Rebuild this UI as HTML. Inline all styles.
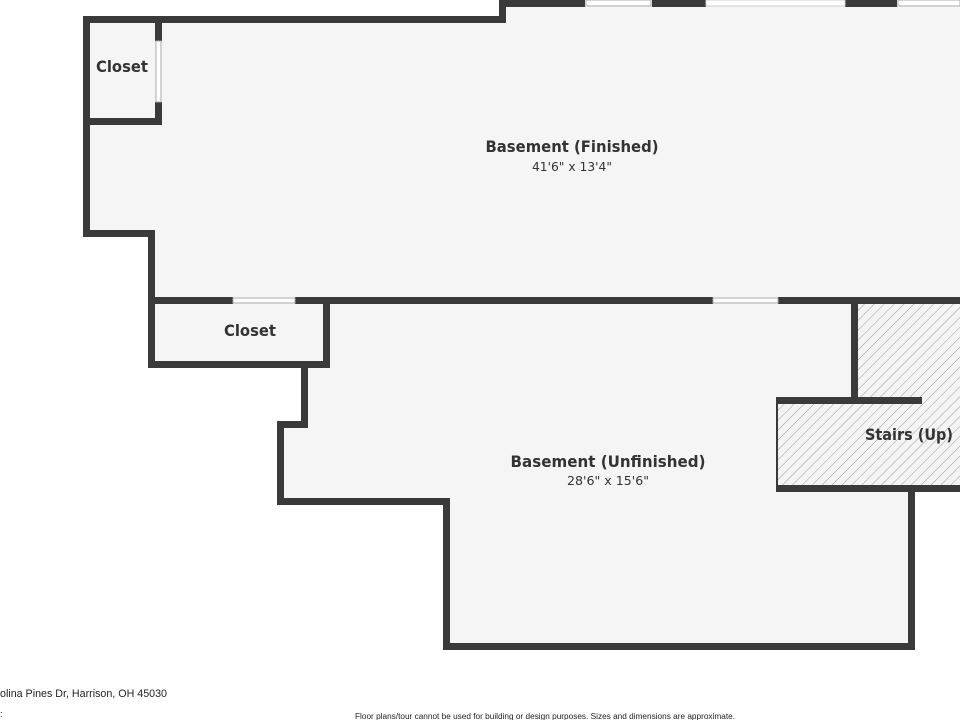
<!DOCTYPE html>
<html><head><meta charset="utf-8"><style>
body{margin:0;width:960px;height:720px;overflow:hidden;background:#fff;font-family:"Liberation Sans","DejaVu Sans",sans-serif}
</style></head><body>
<svg width="960" height="720" viewBox="0 0 960 720" xmlns="http://www.w3.org/2000/svg">
<defs>
<pattern id="h" patternUnits="userSpaceOnUse" width="7" height="7" patternTransform="rotate(45)">
<rect width="7" height="7" fill="#f4f4f4"/><line x1="0" y1="0" x2="0" y2="7" stroke="#999" stroke-width="1"/>
</pattern>
</defs>
<polygon points="86,20 503,20 503,3 960,3 960,300 151,300 151,233 86,233" fill="#f5f5f5"/>
<polygon points="151,300 960,300 960,489 912,489 912,647 446,647 446,502 280,502 280,424 304,424 304,364 151,364" fill="#f5f5f5"/>
<rect x="855" y="304" width="105" height="96" fill="url(#h)"/>
<rect x="777" y="400" width="183" height="88" fill="url(#h)"/>
<g fill="#3a3a3a">
<rect x="83" y="16" width="423" height="7"/>
<rect x="499" y="0" width="7" height="23"/>
<rect x="499" y="0" width="86" height="7"/>
<rect x="652" y="0" width="54" height="7"/>
<rect x="845" y="0" width="52" height="7"/>
<rect x="83" y="16" width="7" height="221"/>
<rect x="155" y="16" width="7" height="25"/>
<rect x="155" y="102" width="7" height="23"/>
<rect x="83" y="118" width="79" height="7"/>
<rect x="83" y="230" width="72" height="7"/>
<rect x="148" y="230" width="7" height="138"/>
<rect x="148" y="297" width="85" height="7"/>
<rect x="295" y="297" width="418" height="7"/>
<rect x="778" y="297" width="182" height="7"/>
<rect x="148" y="361" width="182" height="7"/>
<rect x="323" y="297" width="7" height="71"/>
<rect x="301" y="361" width="7" height="67"/>
<rect x="277" y="421" width="31" height="7"/>
<rect x="277" y="421" width="7" height="84"/>
<rect x="277" y="498" width="173" height="7"/>
<rect x="443" y="498" width="7" height="152"/>
<rect x="443" y="643" width="472" height="7"/>
<rect x="908" y="485" width="7" height="165"/>
<rect x="851" y="304" width="7" height="100"/>
<rect x="776" y="397" width="146" height="7"/>
<rect x="776" y="397" width="2" height="95"/>
<rect x="776" y="485" width="184" height="7"/>
</g>
<g fill="#fff" stroke="#aaa" stroke-width="1">
<rect x="586" y="0" width="65" height="6"/>
<rect x="898" y="0" width="62" height="6"/>
<rect x="706" y="0" width="139" height="6" stroke="#ccc"/>
<rect x="156" y="41" width="5" height="61"/>
<rect x="233" y="298" width="62" height="5"/>
<rect x="713" y="298" width="65" height="5"/>
</g>
<g fill="#333" text-anchor="middle" font-family="DejaVu Sans, Liberation Sans, sans-serif">
<text x="122" y="72" font-size="16" font-weight="bold" textLength="52" lengthAdjust="spacingAndGlyphs">Closet</text>
<text x="572" y="152" font-size="16" font-weight="bold" textLength="173" lengthAdjust="spacingAndGlyphs">Basement (Finished)</text>
<text x="572" y="171" font-size="12" textLength="80" lengthAdjust="spacingAndGlyphs">41'6" x 13'4"</text>
<text x="250" y="336" font-size="16" font-weight="bold" textLength="52" lengthAdjust="spacingAndGlyphs">Closet</text>
<text x="608" y="467" font-size="16" font-weight="bold" textLength="195" lengthAdjust="spacingAndGlyphs">Basement (Unfinished)</text>
<text x="608" y="485" font-size="12" textLength="82" lengthAdjust="spacingAndGlyphs">28'6" x 15'6"</text>
<text x="909" y="440" font-size="16" font-weight="bold" textLength="88" lengthAdjust="spacingAndGlyphs">Stairs (Up)</text>
</g>
<text x="0" y="697" font-size="11" fill="#222" textLength="167" lengthAdjust="spacingAndGlyphs">olina Pines Dr, Harrison, OH 45030</text>
<text x="0" y="717" font-size="9" fill="#222">:</text>
<text x="545" y="719" font-size="8" fill="#222" text-anchor="middle" textLength="380" lengthAdjust="spacingAndGlyphs">Floor plans/tour cannot be used for building or design purposes. Sizes and dimensions are approximate.</text>
</svg>
</body></html>
